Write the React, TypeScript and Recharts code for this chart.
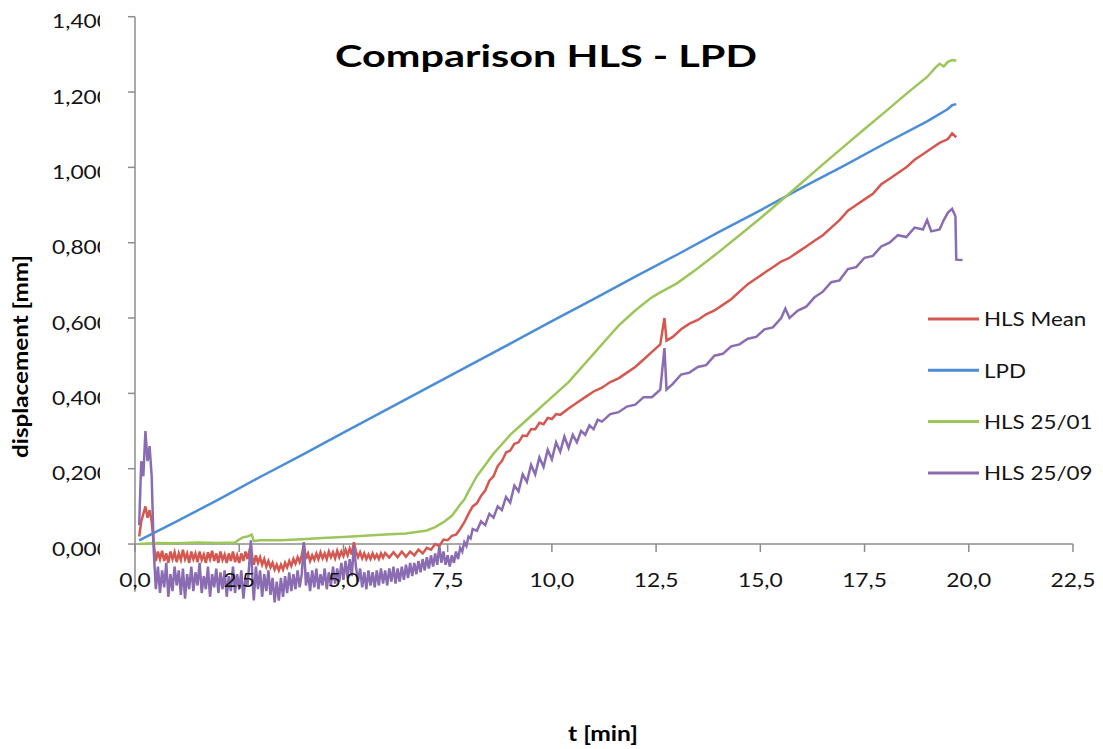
import React from 'react';
import { LineChart, Line, XAxis, YAxis, ReferenceLine, Legend } from 'recharts';

// ---------- data ----------
const xTicks = [0, 2.5, 5, 7.5, 10, 12.5, 15, 17.5, 20, 22.5];
const yTicks = [0, 0.2, 0.4, 0.6, 0.8, 1.0, 1.2, 1.4];

const seriesNames = ['HLS Mean', 'LPD', 'HLS 25/01', 'HLS 25/09'];
const seriesColors = ['#D4584F', '#4C8ED6', '#9CC65A', '#8A6CB2'];

const hlsMean: [number, number][] = [
  [0.1, 0.02], [0.15, 0.06], [0.2, 0.08], [0.25, 0.1], [0.3, 0.07], [0.35, 0.09], [0.4, 0.06], [0.45, 0.0],
  [0.5, -0.045], [0.55, -0.02], [0.6, -0.04], [0.65, -0.018], [0.7, -0.045], [0.75, -0.025], [0.8, -0.05],
  [0.85, -0.02], [0.9, -0.04], [0.95, -0.022], [1.0, -0.048], [1.05, -0.025], [1.1, -0.042], [1.15, -0.015],
  [1.2, -0.04], [1.25, -0.025], [1.3, -0.05], [1.35, -0.02], [1.4, -0.04], [1.45, -0.025], [1.5, -0.048],
  [1.55, -0.02], [1.6, -0.042], [1.65, -0.028], [1.7, -0.05], [1.75, -0.022], [1.8, -0.04], [1.85, -0.018],
  [1.9, -0.045], [1.95, -0.025], [2.0, -0.05], [2.05, -0.02], [2.1, -0.042], [2.15, -0.028], [2.2, -0.05],
  [2.25, -0.025], [2.3, -0.045], [2.35, -0.02], [2.4, -0.048], [2.45, -0.03], [2.5, -0.05], [2.55, -0.025],
  [2.6, -0.045], [2.65, -0.02], [2.7, -0.04], [2.75, -0.015], [2.78, -0.005], [2.82, -0.04], [2.85, -0.055],
  [2.9, -0.03], [2.95, -0.05], [3.0, -0.035], [3.05, -0.055], [3.1, -0.04], [3.15, -0.06], [3.2, -0.045],
  [3.25, -0.062], [3.3, -0.05], [3.35, -0.068], [3.4, -0.055], [3.45, -0.07], [3.5, -0.055], [3.55, -0.068],
  [3.6, -0.05], [3.65, -0.062], [3.7, -0.045], [3.75, -0.058], [3.8, -0.04], [3.85, -0.052], [3.9, -0.035],
  [3.95, -0.048], [4.0, -0.03], [4.05, 0.0], [4.1, -0.04], [4.15, -0.025], [4.2, -0.045], [4.25, -0.03],
  [4.3, -0.042], [4.35, -0.025], [4.4, -0.04], [4.45, -0.022], [4.5, -0.038], [4.55, -0.025], [4.6, -0.04],
  [4.65, -0.02], [4.7, -0.035], [4.75, -0.022], [4.8, -0.038], [4.85, -0.018], [4.9, -0.035], [4.95, -0.02],
  [5.0, -0.032], [5.05, -0.015], [5.1, -0.03], [5.15, -0.012], [5.2, -0.028], [5.25, 0.005], [5.3, -0.02],
  [5.35, -0.035], [5.4, -0.022], [5.45, -0.038], [5.5, -0.025], [5.55, -0.04], [5.6, -0.028], [5.65, -0.04],
  [5.7, -0.025], [5.75, -0.038], [5.8, -0.028], [5.85, -0.04], [5.9, -0.025], [5.95, -0.036], [6.0, -0.024],
  [6.1, -0.036], [6.2, -0.022], [6.3, -0.035], [6.4, -0.02], [6.5, -0.034], [6.6, -0.02], [6.7, -0.03],
  [6.8, -0.015], [6.9, -0.025], [7.0, -0.01], [7.1, -0.015], [7.2, 0.0], [7.3, -0.005], [7.4, 0.012],
  [7.5, 0.01], [7.6, 0.022], [7.7, 0.025], [7.8, 0.04], [7.9, 0.058], [8.0, 0.08], [8.1, 0.1], [8.2, 0.108],
  [8.3, 0.128], [8.4, 0.142], [8.5, 0.168], [8.6, 0.18], [8.7, 0.207], [8.8, 0.22], [8.9, 0.243], [9.0, 0.248],
  [9.1, 0.266], [9.2, 0.27], [9.3, 0.288], [9.4, 0.287], [9.5, 0.305], [9.6, 0.305], [9.7, 0.322], [9.8, 0.318],
  [9.9, 0.335], [10.0, 0.332], [10.1, 0.345], [10.2, 0.343], [10.4, 0.36], [10.6, 0.375], [10.8, 0.39],
  [11.0, 0.405], [11.2, 0.415], [11.4, 0.43], [11.6, 0.44], [11.8, 0.455], [12.0, 0.47], [12.2, 0.49],
  [12.4, 0.51], [12.6, 0.53], [12.7, 0.6], [12.75, 0.54], [12.9, 0.55], [13.1, 0.57], [13.3, 0.585],
  [13.5, 0.595], [13.7, 0.61], [13.9, 0.62], [14.1, 0.635], [14.3, 0.65], [14.5, 0.67], [14.7, 0.69],
  [14.9, 0.705], [15.1, 0.72], [15.3, 0.735], [15.5, 0.75], [15.7, 0.76], [15.9, 0.775], [16.1, 0.79],
  [16.3, 0.805], [16.5, 0.82], [16.7, 0.84], [16.9, 0.86], [17.1, 0.885], [17.3, 0.9], [17.5, 0.915],
  [17.7, 0.93], [17.9, 0.955], [18.1, 0.97], [18.3, 0.985], [18.5, 1.0], [18.7, 1.02], [18.9, 1.035],
  [19.1, 1.05], [19.3, 1.065], [19.5, 1.075], [19.6, 1.09], [19.7, 1.08],
];

const lpd: [number, number][] = [
  [0.1, 0.01], [1, 0.06], [2, 0.118], [3, 0.178], [4, 0.236], [5, 0.296], [6, 0.355], [7, 0.414],
  [8, 0.473], [9, 0.532], [10, 0.592], [11, 0.65], [12, 0.71], [13, 0.768], [14, 0.828], [15, 0.886],
  [16, 0.946], [17, 1.004], [18, 1.064], [19, 1.122], [19.5, 1.155], [19.6, 1.165], [19.7, 1.168],
];

const hls2501: [number, number][] = [
  [0.1, 0.0], [0.5, 0.003], [1.0, 0.002], [1.5, 0.004], [2.0, 0.003], [2.4, 0.004], [2.5, 0.012],
  [2.6, 0.018], [2.7, 0.02], [2.8, 0.025], [2.85, 0.008], [3.0, 0.01], [3.5, 0.01], [4.0, 0.013],
  [4.5, 0.016], [5.0, 0.019], [5.5, 0.022], [6.0, 0.025], [6.5, 0.028], [7.0, 0.036], [7.2, 0.045],
  [7.4, 0.058], [7.6, 0.075], [7.7, 0.09], [7.8, 0.105], [7.9, 0.118], [8.0, 0.14], [8.1, 0.16],
  [8.2, 0.18], [8.4, 0.21], [8.6, 0.24], [8.8, 0.265], [9.0, 0.29], [9.2, 0.31], [9.4, 0.33], [9.6, 0.35],
  [9.8, 0.37], [10.0, 0.39], [10.2, 0.41], [10.4, 0.43], [10.6, 0.455], [10.8, 0.48], [11.0, 0.505],
  [11.2, 0.53], [11.4, 0.555], [11.6, 0.58], [11.8, 0.6], [12.0, 0.62], [12.2, 0.638], [12.4, 0.655],
  [12.6, 0.668], [12.8, 0.68], [13.0, 0.692], [13.5, 0.732], [14.0, 0.775], [14.5, 0.82], [15.0, 0.865],
  [15.5, 0.912], [16.0, 0.96], [16.5, 1.008], [17.0, 1.055], [17.5, 1.102], [18.0, 1.148], [18.5, 1.195],
  [19.0, 1.24], [19.2, 1.265], [19.3, 1.275], [19.4, 1.268], [19.5, 1.28], [19.6, 1.285], [19.7, 1.283],
];

const hls2509: [number, number][] = [
  [0.1, 0.05], [0.15, 0.22], [0.2, 0.18], [0.25, 0.3], [0.3, 0.22], [0.35, 0.26], [0.4, 0.18], [0.45, -0.02],
  [0.5, -0.12], [0.55, -0.06], [0.6, -0.13], [0.65, -0.07], [0.7, -0.115], [0.75, -0.05], [0.8, -0.14],
  [0.85, -0.08], [0.9, -0.125], [0.95, -0.06], [1.0, -0.11], [1.05, -0.07], [1.1, -0.135], [1.15, -0.065],
  [1.2, -0.145], [1.25, -0.08], [1.3, -0.12], [1.35, -0.06], [1.4, -0.125], [1.45, -0.075], [1.5, -0.11],
  [1.55, -0.05], [1.6, -0.13], [1.65, -0.085], [1.7, -0.12], [1.75, -0.06], [1.8, -0.14], [1.85, -0.08],
  [1.9, -0.115], [1.95, -0.065], [2.0, -0.13], [2.05, -0.075], [2.1, -0.12], [2.15, -0.07], [2.2, -0.14],
  [2.25, -0.085], [2.3, -0.125], [2.35, -0.06], [2.4, -0.13], [2.45, -0.08], [2.5, -0.12], [2.55, -0.07],
  [2.6, -0.145], [2.65, -0.09], [2.7, -0.11], [2.75, -0.04], [2.78, 0.01], [2.82, -0.1], [2.85, -0.15],
  [2.9, -0.06], [2.95, -0.12], [3.0, -0.07], [3.05, -0.14], [3.1, -0.08], [3.15, -0.125], [3.2, -0.07],
  [3.25, -0.135], [3.3, -0.09], [3.35, -0.155], [3.4, -0.1], [3.45, -0.15], [3.5, -0.09], [3.55, -0.14],
  [3.6, -0.085], [3.65, -0.13], [3.7, -0.075], [3.75, -0.125], [3.8, -0.08], [3.85, -0.12], [3.9, -0.07],
  [3.95, -0.115], [4.0, -0.08], [4.05, 0.005], [4.1, -0.11], [4.15, -0.075], [4.2, -0.125], [4.25, -0.07],
  [4.3, -0.115], [4.35, -0.065], [4.4, -0.12], [4.45, -0.08], [4.5, -0.11], [4.55, -0.065], [4.6, -0.12],
  [4.65, -0.075], [4.7, -0.11], [4.75, -0.06], [4.8, -0.105], [4.85, -0.065], [4.9, -0.1], [4.95, -0.05],
  [5.0, -0.095], [5.05, -0.045], [5.1, -0.09], [5.15, -0.04], [5.2, -0.085], [5.25, -0.005], [5.3, -0.06],
  [5.35, -0.1], [5.4, -0.065], [5.45, -0.115], [5.5, -0.075], [5.55, -0.12], [5.6, -0.07], [5.65, -0.11],
  [5.7, -0.075], [5.75, -0.115], [5.8, -0.07], [5.85, -0.11], [5.9, -0.065], [5.95, -0.105], [6.0, -0.07],
  [6.05, -0.11], [6.1, -0.065], [6.15, -0.1], [6.2, -0.06], [6.25, -0.105], [6.3, -0.065], [6.35, -0.1],
  [6.4, -0.06], [6.45, -0.095], [6.5, -0.055], [6.55, -0.09], [6.6, -0.05], [6.65, -0.085], [6.7, -0.05],
  [6.75, -0.08], [6.8, -0.045], [6.85, -0.075], [6.9, -0.04], [6.95, -0.07], [7.0, -0.035], [7.05, -0.065],
  [7.1, -0.03], [7.15, -0.06], [7.2, -0.025], [7.25, -0.055], [7.3, -0.005], [7.35, -0.05], [7.4, -0.02],
  [7.45, -0.055], [7.5, -0.03], [7.55, -0.06], [7.6, -0.03], [7.65, -0.05], [7.7, -0.02], [7.75, -0.04],
  [7.8, -0.01], [7.85, -0.02], [7.9, 0.005], [7.95, -0.005], [8.0, 0.02], [8.05, 0.015], [8.1, 0.04],
  [8.2, 0.035], [8.3, 0.06], [8.4, 0.05], [8.5, 0.08], [8.6, 0.07], [8.7, 0.1], [8.8, 0.09], [8.9, 0.125],
  [9.0, 0.11], [9.1, 0.155], [9.2, 0.14], [9.3, 0.185], [9.4, 0.165], [9.5, 0.21], [9.6, 0.185], [9.7, 0.23],
  [9.8, 0.205], [9.9, 0.25], [10.0, 0.225], [10.1, 0.27], [10.2, 0.245], [10.3, 0.285], [10.4, 0.255],
  [10.5, 0.29], [10.6, 0.27], [10.7, 0.3], [10.8, 0.29], [10.9, 0.315], [11.0, 0.305], [11.1, 0.33],
  [11.2, 0.325], [11.4, 0.345], [11.6, 0.35], [11.8, 0.365], [12.0, 0.37], [12.2, 0.39], [12.4, 0.39],
  [12.6, 0.41], [12.7, 0.52], [12.75, 0.41], [12.9, 0.425], [13.1, 0.45], [13.3, 0.455], [13.5, 0.47],
  [13.7, 0.475], [13.9, 0.5], [14.1, 0.505], [14.3, 0.525], [14.5, 0.53], [14.7, 0.545], [14.9, 0.55],
  [15.1, 0.57], [15.3, 0.575], [15.5, 0.6], [15.6, 0.625], [15.7, 0.6], [15.9, 0.62], [16.1, 0.63],
  [16.3, 0.655], [16.5, 0.67], [16.7, 0.695], [16.9, 0.7], [17.1, 0.73], [17.3, 0.735], [17.5, 0.76],
  [17.7, 0.765], [17.9, 0.79], [18.1, 0.8], [18.3, 0.82], [18.5, 0.815], [18.7, 0.84], [18.9, 0.835],
  [19.0, 0.86], [19.1, 0.83], [19.3, 0.835], [19.4, 0.86], [19.5, 0.88], [19.6, 0.89], [19.68, 0.87],
  [19.7, 0.755], [19.85, 0.754],
];

const seriesData = [hlsMean, lpd, hls2501, hls2509];

// ---------- layout ----------
const W = 1103;
const H = 749;
const PLOT_LEFT = 135;
const PLOT_RIGHT = 1073;
const PLOT_TOP = 16.7;
const PLOT_BOTTOM = 604.3;
const Y_MIN = -0.16;
const Y_MAX = 1.4;
const Y_AXIS_BOTTOM = -0.127;
const Y_ZERO_PX = PLOT_TOP + (Y_MAX / (Y_MAX - Y_MIN)) * (PLOT_BOTTOM - PLOT_TOP);
const X_AXIS_H = 30;
const AXIS = '#8C8C8C';
const TEXT = '#141414';
const FONT = 'Lato, "Open Sans", sans-serif';
const SX = 1.2;

const fmt = (v: number, d: number) => v.toFixed(d).replace('.', ',');

const XTick = (props: any) => {
  const { x, payload } = props;
  return (
    <g>
      <line x1={x} x2={x} y1={Y_ZERO_PX} y2={Y_ZERO_PX + 8} stroke={AXIS} strokeWidth={1.5} />
      <g transform={`translate(${x},${Y_ZERO_PX + 43}) scale(${SX},1)`}>
        <text x={0} y={0} textAnchor="middle" fontFamily={FONT} fontSize={19} fill={TEXT}>
          {fmt(payload.value, 1)}
        </text>
      </g>
    </g>
  );
};

const YTick = (props: any) => {
  const { y, payload, index } = props;
  const id = `yclip-${index}`;
  return (
    <g>
      <line x1={PLOT_LEFT - 7} x2={PLOT_LEFT} y1={y} y2={y} stroke={AXIS} strokeWidth={1.5} />
      <defs>
        <clipPath id={id}>
          <rect x={0} y={y - 25} width={100} height={50} />
        </clipPath>
      </defs>
      <g clipPath={`url(#${id})`}>
        <g transform={`translate(52,${y + 11.5}) scale(${SX},1)`}>
          <text x={0} y={0} textAnchor="start" fontFamily={FONT} fontSize={19} fill={TEXT}>
            {fmt(payload.value, 3)}
          </text>
        </g>
      </g>
    </g>
  );
};

const LegendContent = (props: any) => {
  const items = [...(props.payload || [])].sort(
    (a: any, b: any) => seriesNames.indexOf(a.value) - seriesNames.indexOf(b.value)
  );
  return (
    <svg width={183} height={210} style={{ display: 'block' }}>
      {items.map((p: any, i: number) => {
        const cy = 29 + i * 51.3;
        return (
          <g key={i}>
            <line x1={8} x2={59} y1={cy} y2={cy} stroke={p.color} strokeWidth={3} />
            <g transform={`translate(64,${cy + 7.2}) scale(1.12,1)`}>
              <text x={0} y={0} fontFamily={FONT} fontSize={20} fill={TEXT}>
                {p.value}
              </text>
            </g>
          </g>
        );
      })}
    </svg>
  );
};

export default function App() {
  return (
    <div style={{ position: 'absolute', left: 0, top: 0, width: W, height: H, background: '#fff' }}>
      <LineChart
        width={W}
        height={H}
        margin={{ top: PLOT_TOP, right: W - PLOT_RIGHT, bottom: H - PLOT_BOTTOM - X_AXIS_H, left: 0 }}
      >
        <XAxis
          type="number"
          dataKey="t"
          domain={[0, 22.5]}
          ticks={xTicks}
          interval={0}
          axisLine={false}
          tickLine={false}
          tick={<XTick />}
          height={X_AXIS_H}
          allowDataOverflow
        />
        <YAxis
          type="number"
          domain={[Y_MIN, Y_MAX]}
          ticks={yTicks}
          interval={0}
          axisLine={false}
          tickLine={false}
          tick={<YTick />}
          width={PLOT_LEFT}
          allowDataOverflow
        />
        <ReferenceLine y={0} stroke={AXIS} strokeWidth={1.5} />
        <ReferenceLine
          segment={[{ x: 0, y: Y_AXIS_BOTTOM }, { x: 0, y: Y_MAX }]}
          stroke={AXIS}
          strokeWidth={1.5}
        />
        {seriesData.map((arr, i) => (
          <Line
            key={seriesNames[i]}
            name={seriesNames[i]}
            data={arr.map(([t, v]) => ({ t, v }))}
            dataKey="v"
            type="linear"
            stroke={seriesColors[i]}
            strokeWidth={2.5}
            dot={false}
            activeDot={false}
            legendType="line"
            isAnimationActive={false}
          />
        ))}
        <Legend
          layout="vertical"
          align="center"
          verticalAlign="middle"
          content={<LegendContent />}
          wrapperStyle={{ position: 'absolute', left: 920, top: 290, width: 183, height: 210 }}
        />
        <text
          x={546}
          y={67}
          textAnchor="middle"
          fontFamily={FONT}
          fontWeight="bold"
          fontSize={30}
          fill="#000"
          textLength={422}
          lengthAdjust="spacingAndGlyphs"
        >
          Comparison HLS - LPD
        </text>
        <text
          transform="translate(28,356.5) rotate(-90)"
          x={0}
          y={0}
          textAnchor="middle"
          fontFamily={FONT}
          fontWeight="bold"
          fontSize={21}
          fill="#000"
          textLength={203}
          lengthAdjust="spacingAndGlyphs"
        >
          displacement [mm]
        </text>
        <text
          x={603}
          y={741}
          textAnchor="middle"
          fontFamily={FONT}
          fontWeight="bold"
          fontSize={20}
          fill="#000"
          textLength={70}
          lengthAdjust="spacingAndGlyphs"
        >
          t [min]
        </text>
      </LineChart>
    </div>
  );
}
